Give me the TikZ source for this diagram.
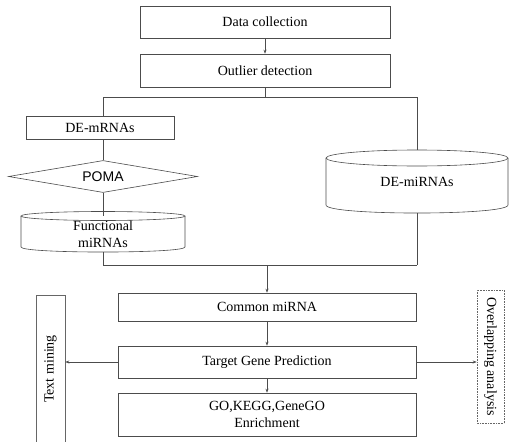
\documentclass[tikz,border=0pt]{standalone}
\usepackage{fontspec}
\setmainfont{Liberation Serif}
\setsansfont{Liberation Sans}
\usetikzlibrary{shapes.geometric,arrows.meta}

\begin{document}
\begin{tikzpicture}[x=1pt,y=-1pt,
  line/.style={draw=black!70,line width=0.6pt},
  arr/.style={line,-{Stealth[length=4pt,width=3pt]}},
  box/.style={rectangle,draw=black!70,line width=0.6pt,inner sep=0pt,font=\fontsize{14}{17}\selectfont},
  vbox/.style={box,draw=black!60},
  txt/.style={rectangle,inner sep=0pt,font=\fontsize{14}{17}\selectfont,align=center}]
  \useasboundingbox (0,0) rectangle (510,441);
  \clip (0,0) rectangle (510,441);

  % top of the flow
  \node[box,minimum width=250,minimum height=32] (data) at (265,22) {Data collection};
  \node[box,minimum width=250,minimum height=33] (outlier) at (265,70.5) {Outlier detection};
  \draw[arr] (data) -- (outlier);

  \coordinate (tl) at (103,97);
  \coordinate (tr) at (417,97);
  \coordinate (bl) at (103,265);
  \coordinate (br) at (417,265);

  % left branch
  \node[box,minimum width=148,minimum height=23] (demr) at (100,128) {DE-mRNAs};
  \node[diamond,draw=black!70,line width=0.6pt,aspect=6,inner sep=0pt,
        minimum width=189,minimum height=32,font=\sffamily\fontsize{14}{17}\selectfont] (poma) at (103,176.5) {POMA};
  \node[txt,minimum width=164,minimum height=36] (func) at (103,234) {Functional\\miRNAs};
  \draw[line] (103,216) ellipse [x radius=82pt,y radius=4.5pt];
  \draw[line] (21,216) -- (21,247) .. controls (21,253.7) and (185,253.7) .. (185,247) -- (185,216);

  % right branch
  \node[txt,minimum width=182,minimum height=63] (demi) at (417,181.5) {\raisebox{-5pt}{DE-miRNAs}};
  \draw[line] (417,158) ellipse [x radius=91pt,y radius=8pt];
  \draw[line] (326,158) -- (326,205) .. controls (326,215.7) and (508,215.7) .. (508,205) -- (508,158);

  \draw[line] (outlier) -- (outlier.south |- tl);
  \draw[line] (tl) -- (tr);
  \draw[line] (tl) -- (tl |- demr.north);
  \draw[line] (tl |- demr.south) -- (poma);
  \draw[line] (poma) -- (func.north);
  \draw[line] (func.south) -- (bl) -- (br);
  \draw[line] (tr) -- (demi.north);
  \draw[line] (demi.south) -- (br);

  % bottom of the flow
  \node[box,minimum width=298,minimum height=28] (common) at (267,307) {Common miRNA};
  \node[box,minimum width=298,minimum height=32] (target) at (267,362) {Target Gene Prediction};
  \node[box,minimum width=298,minimum height=43,align=center] (enrich) at (267,414.5) {GO,KEGG,GeneGO\\Enrichment};
  \draw[arr] (common.north |- bl) -- (common);
  \draw[arr] (common) -- (target);
  \draw[arr] (target) -- (enrich);

  \node[vbox,rotate=90,minimum width=148,minimum height=29] (mining) at (50.5,369) {Text mining};
  \node[vbox,densely dotted,rotate=-90,minimum width=133,minimum height=27] (overlap) at (490.5,356.5) {Overlapping analysis};
  \draw[arr] (target) -- (mining.south |- target);
  \draw[arr] (target) -- (overlap.south |- target);
\end{tikzpicture}
\end{document}
